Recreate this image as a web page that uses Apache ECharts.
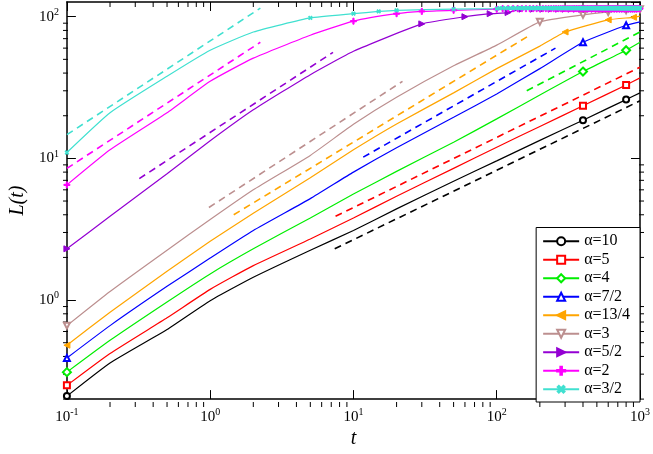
<!DOCTYPE html>
<html>
<head>
<meta charset="utf-8">
<script src="https://cdn.jsdelivr.net/npm/echarts@6/dist/echarts.min.js"></script>
<style>html,body{margin:0;padding:0;background:#fff}#chart{width:653px;height:454px}</style>
</head>
<body>
<div id="chart"></div>
<script>
// curve knots (t, L)
const tBase = [0.1, 0.2, 0.5, 1, 2, 5, 10, 20, 50, 100, 200, 400, 800, 1000]
const L10   = [0.21, 0.36, 0.62, 0.99, 1.45, 2.25, 3.1, 4.4, 6.9, 9.6, 13.4, 18.6, 26, 29]
const L5    = [0.25, 0.42, 0.75, 1.19, 1.75, 2.7, 3.8, 5.4, 8.5, 12, 16.8, 23.5, 33, 37]
const L4    = [0.31, 0.52, 0.97, 1.53, 2.3, 3.8, 5.6, 8.1, 13, 19, 28, 41, 58, 66]
const L72   = [0.39, 0.66, 1.25, 1.98, 3.1, 5.2, 8.0, 11.9, 19.5, 28.5, 43, 66, 87, 92]
const tOr   = [0.1, 0.2, 0.5, 1, 2, 5, 10, 20, 50, 100, 200, 300, 600, 900, 1000]
const L134  = [0.48, 0.82, 1.6, 2.6, 4.1, 7.3, 11.5, 17.5, 29, 43, 62, 78, 95, 99, 101]
const tBr   = [0.1, 0.2, 0.5, 1, 2, 5, 10, 20, 50, 100, 200, 400, 600, 800, 1000]
const L3    = [0.66, 1.15, 2.25, 3.7, 6.0, 10.5, 17.4, 27, 45, 63, 92, 103, 108, 111, 113]
const tPu   = [0.1, 0.2, 0.5, 1, 2, 5, 10, 30, 60, 90, 120, 200, 500, 1000]
const L52   = [2.3, 3.9, 7.8, 13.3, 22, 39, 57, 89, 100, 105, 107, 110, 112, 113]
const tMa   = [0.1, 0.2, 0.5, 1, 2, 5, 10, 20, 30, 50, 100, 1000]
const L2    = [6.5, 11.5, 21, 35, 51, 74, 93, 105, 109, 111, 113, 114]
const tCy   = [0.1, 0.2, 0.5, 1, 2, 5, 10, 15, 20, 50, 100, 1000]
const L32   = [11, 21, 38, 58, 78, 98, 105, 109, 111, 113, 114, 115]

// marker positions (t) and plateau levels
const mark10 = [0.1, 400, 800]
const mark134 = [0.1, 300, 600, 900]
const mark3 = [0.1, 200, 400, 600, 800, 1000]
const step52 = 30, step2 = 10, step32 = 5
const plateau52 = 113, plateau2 = 114, plateau32 = 115

// dashed reference lines [[t0, L0], [t1, L1]]
const dash10 = [[7.4, 2.3], [1000, 25.5]]
const dash5 = [[7.5, 3.9], [1000, 44]]
const dash4 = [[162, 30], [1000, 78]]
const dash72 = [[11.7, 10.2], [257, 60]]
const dash134 = [[1.46, 4.0], [166, 73]]
const dash3 = [[0.98, 4.5], [22, 35]]
const dash52 = [[0.32, 7.2], [7.2, 56]]
const dash2 = [[0.1, 8.5], [2.24, 66]]
const dash32 = [[0.1, 14.7], [2.24, 115]]

const plus = 'path://M4,0h2v4h4v2h-4v4h-2v-4h-4v-2h4z'

function build(ts, ls, marks, step, plateau) {
  const pts = ts.map((t, i) => ({ t, L: ls[i], m: marks.includes(t) }))
  if (step) {
    pts[0].m = true
    for (let t = step; t <= 1000; t += step) {
      const k = pts.find(p => Math.abs(p.t - t) < 1e-9)
      if (k) { k.m = true; continue }
      if (t >= 100) pts.push({ t, L: plateau, m: true })
    }
    pts.sort((a, b) => a.t - b.t)
  }
  return pts.map(p => p.m ? { value: [p.t, p.L] } : { value: [p.t, p.L], symbol: 'none' })
}

const defs = [
  { name: 'α=10', c: '#000000', d: build(tBase, L10, mark10), s: 'emptyCircle', dash: dash10 },
  { name: 'α=5', c: '#ff0000', d: build(tBase, L5, mark10), s: 'emptyRect', dash: dash5 },
  { name: 'α=4', c: '#00ee00', d: build(tBase, L4, mark10), s: 'emptyDiamond', dash: dash4, size: 8 },
  { name: 'α=7/2', c: '#0000ff', d: build(tBase, L72, mark10), s: 'emptyTriangle', dash: dash72 },
  { name: 'α=13/4', c: '#ffa500', d: build(tOr, L134, mark134), s: 'triangle', rot: 90, dash: dash134 },
  { name: 'α=3', c: '#bc8f8f', d: build(tBr, L3, mark3), s: 'emptyTriangle', rot: 180, dash: dash3 },
  { name: 'α=5/2', c: '#9400d3', d: build(tPu, L52, [], step52, plateau52), s: 'triangle', rot: -90, dash: dash52 },
  { name: 'α=2', c: '#ff00ff', d: build(tMa, L2, [], step2, plateau2), s: plus, size: 6, dash: dash2 },
  { name: 'α=3/2', c: '#40e0d0', d: build(tCy, L32, [], step32, plateau32), s: plus, size: 4, rot: 45, dash: dash32 }
]

const series = []
defs.forEach(o => {
  series.push({
    name: o.name, type: 'line', data: o.d, smooth: 0.15,
    symbol: o.s, symbolSize: o.size || 6, symbolRotate: o.rot || 0,
    showAllSymbol: true, silent: true,
    lineStyle: { color: o.c, width: 1.2 },
    itemStyle: { color: o.c, borderColor: o.c, borderWidth: 1 }
  })
  series.push({
    type: 'line', data: o.dash, symbol: 'none', silent: true,
    lineStyle: { color: o.c, width: 1.6, type: [7, 5] }
  })
})

const serif = 'Liberation Serif'
const powLabel = v => '{b|10}{s|' + Math.round(Math.log10(v)) + '}'
const rich = { b: { fontFamily: serif, fontSize: 15, color: '#000' },
               s: { fontFamily: serif, fontSize: 10, color: '#000', padding: [0, 0, 9, 0] } }
const tick = { inside: true, length: 9, lineStyle: { color: '#000' } }
const line = { lineStyle: { color: '#000', width: 1.5 } }

const chart = echarts.init(document.getElementById('chart'))
chart.setOption({
  animation: false,
  grid: { left: 63, right: 9, top: 2, bottom: 47 },
  xAxis: [
    { type: 'log', logBase: 10, min: 0.1, max: 1000, axisLine: line, axisTick: tick,
      splitLine: { show: false },
      axisLabel: { formatter: powLabel, rich, margin: 8 },
      name: 't', nameLocation: 'middle', nameGap: 28,
      nameTextStyle: { fontFamily: serif, fontSize: 20, fontStyle: 'italic', color: '#000' } },
    { type: 'log', logBase: 10, min: 0.1, max: 1000, position: 'top', axisLine: line, axisTick: tick,
      splitLine: { show: false }, axisLabel: { show: false } }
  ],
  yAxis: [
    { type: 'log', logBase: 10, min: 0.2, max: 127, axisLine: line, axisTick: tick,
      splitLine: { show: false },
      axisLabel: { formatter: powLabel, rich, margin: 8, showMinLabel: false, showMaxLabel: false },
      name: 'L(t)', nameLocation: 'middle', nameGap: 33,
      nameTextStyle: { fontFamily: serif, fontSize: 20, fontStyle: 'italic', color: '#000' } },
    { type: 'log', logBase: 10, min: 0.2, max: 127, position: 'right', axisLine: line, axisTick: tick,
      splitLine: { show: false }, axisLabel: { show: false } }
  ],
  legend: {
    data: defs.map(o => o.name), orient: 'vertical', right: 13, bottom: 52,
    backgroundColor: '#fff', borderColor: '#000', borderWidth: 1, borderRadius: 0,
    padding: [5, 10, 4, 6], itemGap: 1, itemWidth: 36, itemHeight: 10,
    textStyle: { fontFamily: serif, fontSize: 16, lineHeight: 17.5, color: '#000' }
  },
  series
})

// log-spaced minor ticks on all four sides
const g = []
const tl = { stroke: '#000', lineWidth: 1 }
const gLeft = 63, gRight = 653 - 9, gTop = 2, gBottom = 454 - 47
for (let e = -1; e < 3; e++) for (let k = 2; k < 10; k++) {
  const x = chart.convertToPixel({ xAxisIndex: 0 }, k * Math.pow(10, e))
  g.push({ type: 'line', shape: { x1: x, y1: gBottom, x2: x, y2: gBottom - 5 }, style: tl, silent: true })
  g.push({ type: 'line', shape: { x1: x, y1: gTop, x2: x, y2: gTop + 5 }, style: tl, silent: true })
}
for (let e = -1; e < 3; e++) for (let k = 2; k < 10; k++) {
  const v = k * Math.pow(10, e)
  if (v < 0.2 || v > 127) continue
  const y = chart.convertToPixel({ yAxisIndex: 0 }, v)
  g.push({ type: 'line', shape: { x1: gLeft, y1: y, x2: gLeft + 5, y2: y }, style: tl, silent: true })
  g.push({ type: 'line', shape: { x1: gRight, y1: y, x2: gRight - 5, y2: y }, style: tl, silent: true })
}
chart.setOption({ graphic: g })
</script>
</body>
</html>
